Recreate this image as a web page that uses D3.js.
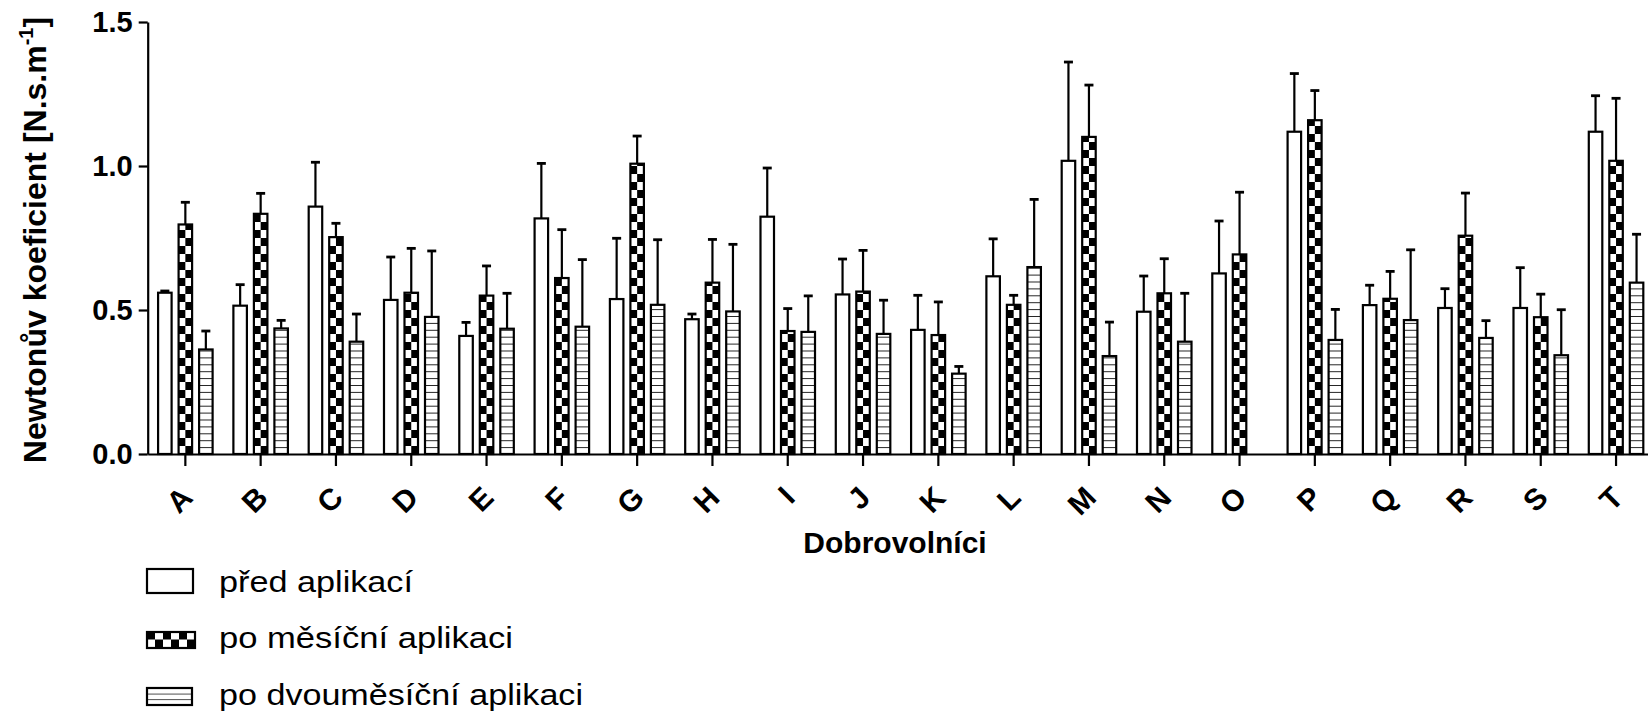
<!DOCTYPE html>
<html>
<head>
<meta charset="utf-8">
<script src="https://cdn.jsdelivr.net/npm/d3@7"></script>
<style>
  html, body { margin: 0; padding: 0; background: #fff; }
  svg { display: block; font-family: "Liberation Sans", Arial, sans-serif; }
</style>
</head>
<body>
<div id="chart"></div>
<script>
// categories (dobrovolnici)
const categories = ['A','B','C','D','E','F','G','H','I','J','K','L','M','N','O','P','Q','R','S','T'];

// mean values
const predAplikaci = [0.560,0.515,0.859,0.535,0.410,0.818,0.538,0.468,0.824,0.554,0.431,0.617,1.018,0.494,0.627,1.119,0.517,0.507,0.507,1.119];
const poMesicni    = [0.797,0.834,0.753,0.560,0.550,0.611,1.008,0.595,0.427,0.564,0.413,0.518,1.101,0.558,0.693,1.159,0.539,0.758,0.475,1.018];
const poDvoumesicni = [0.363,0.436,0.390,0.476,0.435,0.442,0.518,0.495,0.424,0.417,0.279,0.649,0.340,0.390,null,0.396,0.465,0.403,0.343,0.595];

// upper error (SD)
const predErr  = [0.006,0.073,0.154,0.149,0.047,0.191,0.211,0.018,0.169,0.123,0.120,0.130,0.343,0.124,0.182,0.202,0.069,0.067,0.140,0.125];
const mesicErr = [0.077,0.071,0.048,0.154,0.103,0.168,0.096,0.150,0.078,0.143,0.115,0.033,0.180,0.120,0.216,0.103,0.095,0.148,0.080,0.217];
const dvouErr  = [0.064,0.028,0.096,0.229,0.123,0.233,0.226,0.233,0.125,0.117,0.025,0.235,0.118,0.168,null,0.106,0.244,0.060,0.158,0.168];

const seriesKeys = ['pred', 'mesic', 'dvou'];
const seriesLabels = ['před aplikací', 'po měsíční aplikaci', 'po dvouměsíční aplikaci'];
const yTicks = [0, 0.5, 1.0, 1.5];

const width = 1648, height = 716;
const plotLeft = 147.7, plotBottom = 454, plotTop = 22;
const fontStack = '"Liberation Sans", Arial, sans-serif';

const svg = d3.select('#chart').append('svg')
    .attr('width', width)
    .attr('height', height);

const x0 = d3.scaleBand()
    .domain(categories)
    .range([plotLeft, plotLeft + 75.3 * categories.length])
    .padding(0);

const x1 = d3.scaleBand()
    .domain(seriesKeys)
    .range([-34.25, 34.25])
    .padding(0.341);

const y = d3.scaleLinear()
    .domain([0, 1.5])
    .range([plotBottom, plotTop]);

const bw = x1.bandwidth();

// vzory
const defs = svg.append('defs');

const checker = defs.append('pattern')
    .attr('id', 'checker')
    .attr('patternUnits', 'userSpaceOnUse')
    .attr('width', bw)
    .attr('height', 16);
checker.append('rect').attr('width', bw).attr('height', 16).attr('fill', '#fff');
checker.append('rect').attr('x', 0).attr('y', 0).attr('width', bw / 2).attr('height', 8).attr('fill', '#000');
checker.append('rect').attr('x', bw / 2).attr('y', 8).attr('width', bw / 2).attr('height', 8).attr('fill', '#000');

const stripes = defs.append('pattern')
    .attr('id', 'stripes')
    .attr('patternUnits', 'userSpaceOnUse')
    .attr('width', bw)
    .attr('height', 6.9);
stripes.append('rect').attr('width', bw).attr('height', 6.9).attr('fill', '#fff');
stripes.append('line')
    .attr('x1', 0).attr('x2', bw)
    .attr('y1', 0).attr('y2', 0)
    .attr('stroke', '#000').attr('stroke-width', 1.7);

const checkerLegend = defs.append('pattern')
    .attr('id', 'checker-legend')
    .attr('patternUnits', 'userSpaceOnUse')
    .attr('width', 16)
    .attr('height', 15);
checkerLegend.append('rect').attr('width', 16).attr('height', 15).attr('fill', '#fff');
checkerLegend.append('rect').attr('width', 8).attr('height', 7.5).attr('fill', '#000');
checkerLegend.append('rect').attr('x', 8).attr('y', 7.5).attr('width', 8).attr('height', 7.5).attr('fill', '#000');

const stripesLegend = defs.append('pattern')
    .attr('id', 'stripes-legend')
    .attr('patternUnits', 'userSpaceOnUse')
    .attr('width', 48)
    .attr('height', 5.6);
stripesLegend.append('rect').attr('width', 48).attr('height', 5.6).attr('fill', '#fff');
stripesLegend.append('line')
    .attr('x1', 0).attr('x2', 48)
    .attr('y1', 0).attr('y2', 0)
    .attr('stroke', '#000').attr('stroke-width', 1.6);

const fills = { pred: '#fff', mesic: 'url(#checker)', dvou: 'url(#stripes)' };

// data pro sloupce
const rows = categories.map((c, i) => ({
    cat: c,
    bars: [
        { key: 'pred', value: predAplikaci[i], err: predErr[i] },
        { key: 'mesic', value: poMesicni[i], err: mesicErr[i] },
        { key: 'dvou', value: poDvoumesicni[i], err: dvouErr[i] }
    ].filter(b => b.value !== null)
}));

const groups = svg.append('g').selectAll('g.group')
    .data(rows)
    .enter()
    .append('g')
    .attr('class', 'group')
    .attr('transform', d => `translate(${x0(d.cat) + x0.bandwidth() / 2},0)`);

// chybove useky
groups.selectAll('g.err')
    .data(d => d.bars)
    .enter()
    .append('g')
    .attr('class', 'err')
    .each(function(d) {
        const g = d3.select(this);
        const cx = x1(d.key) + bw / 2;
        g.append('line')
            .attr('x1', cx).attr('x2', cx)
            .attr('y1', y(d.value)).attr('y2', y(d.value + d.err))
            .attr('stroke', '#000').attr('stroke-width', 2.2);
        g.append('line')
            .attr('x1', cx - 4.5).attr('x2', cx + 4.5)
            .attr('y1', y(d.value + d.err)).attr('y2', y(d.value + d.err))
            .attr('stroke', '#000').attr('stroke-width', 2.8);
    });

// sloupce (pattern kotveny na zakladne sloupce)
groups.selectAll('g.bar')
    .data(d => d.bars)
    .enter()
    .append('g')
    .attr('class', 'bar')
    .attr('transform', d => `translate(${x1(d.key)},${y(0)})`)
    .append('rect')
    .attr('x', 0)
    .attr('y', d => y(d.value) - y(0))
    .attr('width', bw)
    .attr('height', d => y(0) - y(d.value))
    .attr('fill', d => fills[d.key])
    .attr('stroke', '#000')
    .attr('stroke-width', 2.2);

// osa y
const yAxis = svg.append('g')
    .attr('transform', `translate(${plotLeft},0)`)
    .call(d3.axisLeft(y).tickValues(yTicks).tickFormat(d3.format('.1f')).tickSize(9).tickSizeOuter(0).tickPadding(6));
yAxis.select('.domain').attr('stroke-width', 2.2);
yAxis.selectAll('.tick line').attr('stroke-width', 2.2);
yAxis.selectAll('.tick text')
    .attr('fill', '#000')
    .style('font-family', fontStack)
    .style('font-weight', 'bold')
    .style('font-size', '29px');

// osa x
const xAxis = svg.append('g')
    .attr('transform', `translate(0,${plotBottom})`)
    .call(d3.axisBottom(x0).tickSize(12).tickSizeOuter(0));
xAxis.select('.domain').attr('stroke-width', 2.2);
xAxis.selectAll('.tick line').attr('stroke-width', 2.2);
xAxis.selectAll('.tick text')
    .attr('y', 0)
    .attr('dy', '0.35em')
    .attr('transform', 'translate(1.5,38) rotate(-45)')
    .attr('text-anchor', 'end')
    .attr('fill', '#000')
    .style('font-family', fontStack)
    .style('font-weight', 'bold')
    .style('font-size', '30px');

// popisky os
svg.append('text')
    .attr('x', 895)
    .attr('y', 553)
    .attr('text-anchor', 'middle')
    .style('font-weight', 'bold')
    .style('font-size', '30px')
    .text('Dobrovolníci');

const yTitle = svg.append('text')
    .attr('transform', 'translate(46,240) rotate(-90)')
    .attr('text-anchor', 'middle')
    .style('font-weight', 'bold')
    .style('font-size', '32px');
yTitle.append('tspan').text('Newtonův koeficient [N.s.m');
yTitle.append('tspan').attr('dy', -13).style('font-size', '20px').text('-1');
yTitle.append('tspan').attr('dy', 13).text(']');

// legenda
const legendBoxes = [
    { x: 147, y: 569, w: 46, h: 24, fill: '#fff', textY: 592, len: 194 },
    { x: 147, y: 632, w: 48, h: 16, fill: 'url(#checker-legend)', textY: 648, len: 294 },
    { x: 147, y: 688, w: 45, h: 17, fill: 'url(#stripes-legend)', textY: 705, len: 364 }
];

const legend = svg.append('g').selectAll('g.legend')
    .data(seriesLabels)
    .enter()
    .append('g')
    .attr('class', 'legend');

legend.append('g')
    .attr('transform', (d, i) => `translate(${legendBoxes[i].x},${legendBoxes[i].y})`)
    .append('rect')
    .attr('width', (d, i) => legendBoxes[i].w)
    .attr('height', (d, i) => legendBoxes[i].h)
    .attr('fill', (d, i) => legendBoxes[i].fill)
    .attr('stroke', '#000')
    .attr('stroke-width', 2.2);

legend.append('text')
    .attr('x', 219)
    .attr('y', (d, i) => legendBoxes[i].textY)
    .attr('textLength', (d, i) => legendBoxes[i].len)
    .attr('lengthAdjust', 'spacingAndGlyphs')
    .style('font-size', '30px')
    .text(d => d);
</script>
</body>
</html>
